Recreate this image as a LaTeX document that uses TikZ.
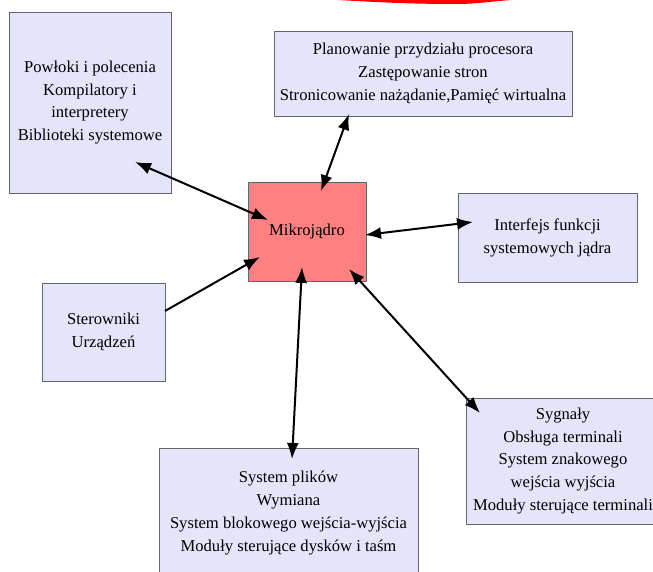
\documentclass[tikz,border=0pt]{standalone}
\usepackage{fontspec}
\setmainfont{Liberation Serif}
\usetikzlibrary{arrows.meta}
\definecolor{lav}{RGB}{228,228,250}
\definecolor{kern}{RGB}{255,128,128}
\definecolor{edge}{RGB}{100,100,110}
\begin{document}
\begin{tikzpicture}[x=1pt,y=-1pt,
  box/.style={draw=edge, line width=0.7pt, fill=lav, inner sep=0pt, align=center,
              font=\fontsize{16.6}{22.8}\selectfont},
  conn/.style={line width=2pt, {Latex[length=16pt,width=12pt]}-{Latex[length=16pt,width=12pt]}},
  oneway/.style={line width=2pt, -{Latex[length=16pt,width=12pt]}}]
\useasboundingbox (0,0) rectangle (653,572);
\clip (0,0) rectangle (653,572);
% red fragment at the top edge
\fill[red] (337,0) to[out=-3,in=180] (456,4) to[out=0,in=183] (513,0) -- cycle;
% boxes
\node[box, minimum width=162pt, minimum height=181pt] (shell) at (90,102.5)
  {Powłoki i polecenia\\Kompilatory i\\interpretery\\Biblioteki systemowe};
\node[box, minimum width=298pt, minimum height=85pt] (sched) at (423,73.5)
  {Planowanie przydziału procesora\\Zastępowanie stron\\Stronicowanie nażądanie,Pamięć wirtualna};
\node[box, fill=kern, minimum width=118pt, minimum height=99pt] (micro) at (307,231.5)
  {Mikrojądro};
\node[box, minimum width=179pt, minimum height=89pt] (iface) at (547.5,237.5)
  {\raisebox{-6pt}{\begin{tabular}{@{}c@{}}Interfejs funkcji\\systemowych jądra\end{tabular}}};
\node[box, minimum width=123pt, minimum height=98pt] (drv) at (103.5,332)
  {Sterowniki\\Urządzeń};
\node[box, minimum width=259pt, minimum height=130pt] (fs) at (288.5,513)
  {System plików\\Wymiana\\System blokowego wejścia-wyjścia\\Moduły sterujące dysków i taśm};
\node[box, minimum width=194pt, minimum height=126pt] (sig) at (563,461)
  {Sygnały\\Obsługa terminali\\System znakowego\\wejścia wyjścia\\Moduły sterujące terminali};
% connector end points
\coordinate (c1a) at (135,162); \coordinate (c1b) at (268,220);
\coordinate (c2a) at (349,114); \coordinate (c2b) at (321,191);
\coordinate (c3a) at (365,235); \coordinate (c3b) at (473,222);
\coordinate (c4a) at (165,311); \coordinate (c4b) at (260,257);
\coordinate (c5a) at (302,267); \coordinate (c5b) at (292,459);
\coordinate (c6a) at (349,269); \coordinate (c6b) at (480,413);
% connectors
\draw[conn] (c1a) -- (c1b);
\draw[conn] (c2a) -- (c2b);
\draw[conn] (c3a) -- (c3b);
\draw[oneway] (c4a) -- (c4b);
\draw[conn] (c5a) -- (c5b);
\draw[conn] (c6a) -- (c6b);
\end{tikzpicture}
\end{document}
